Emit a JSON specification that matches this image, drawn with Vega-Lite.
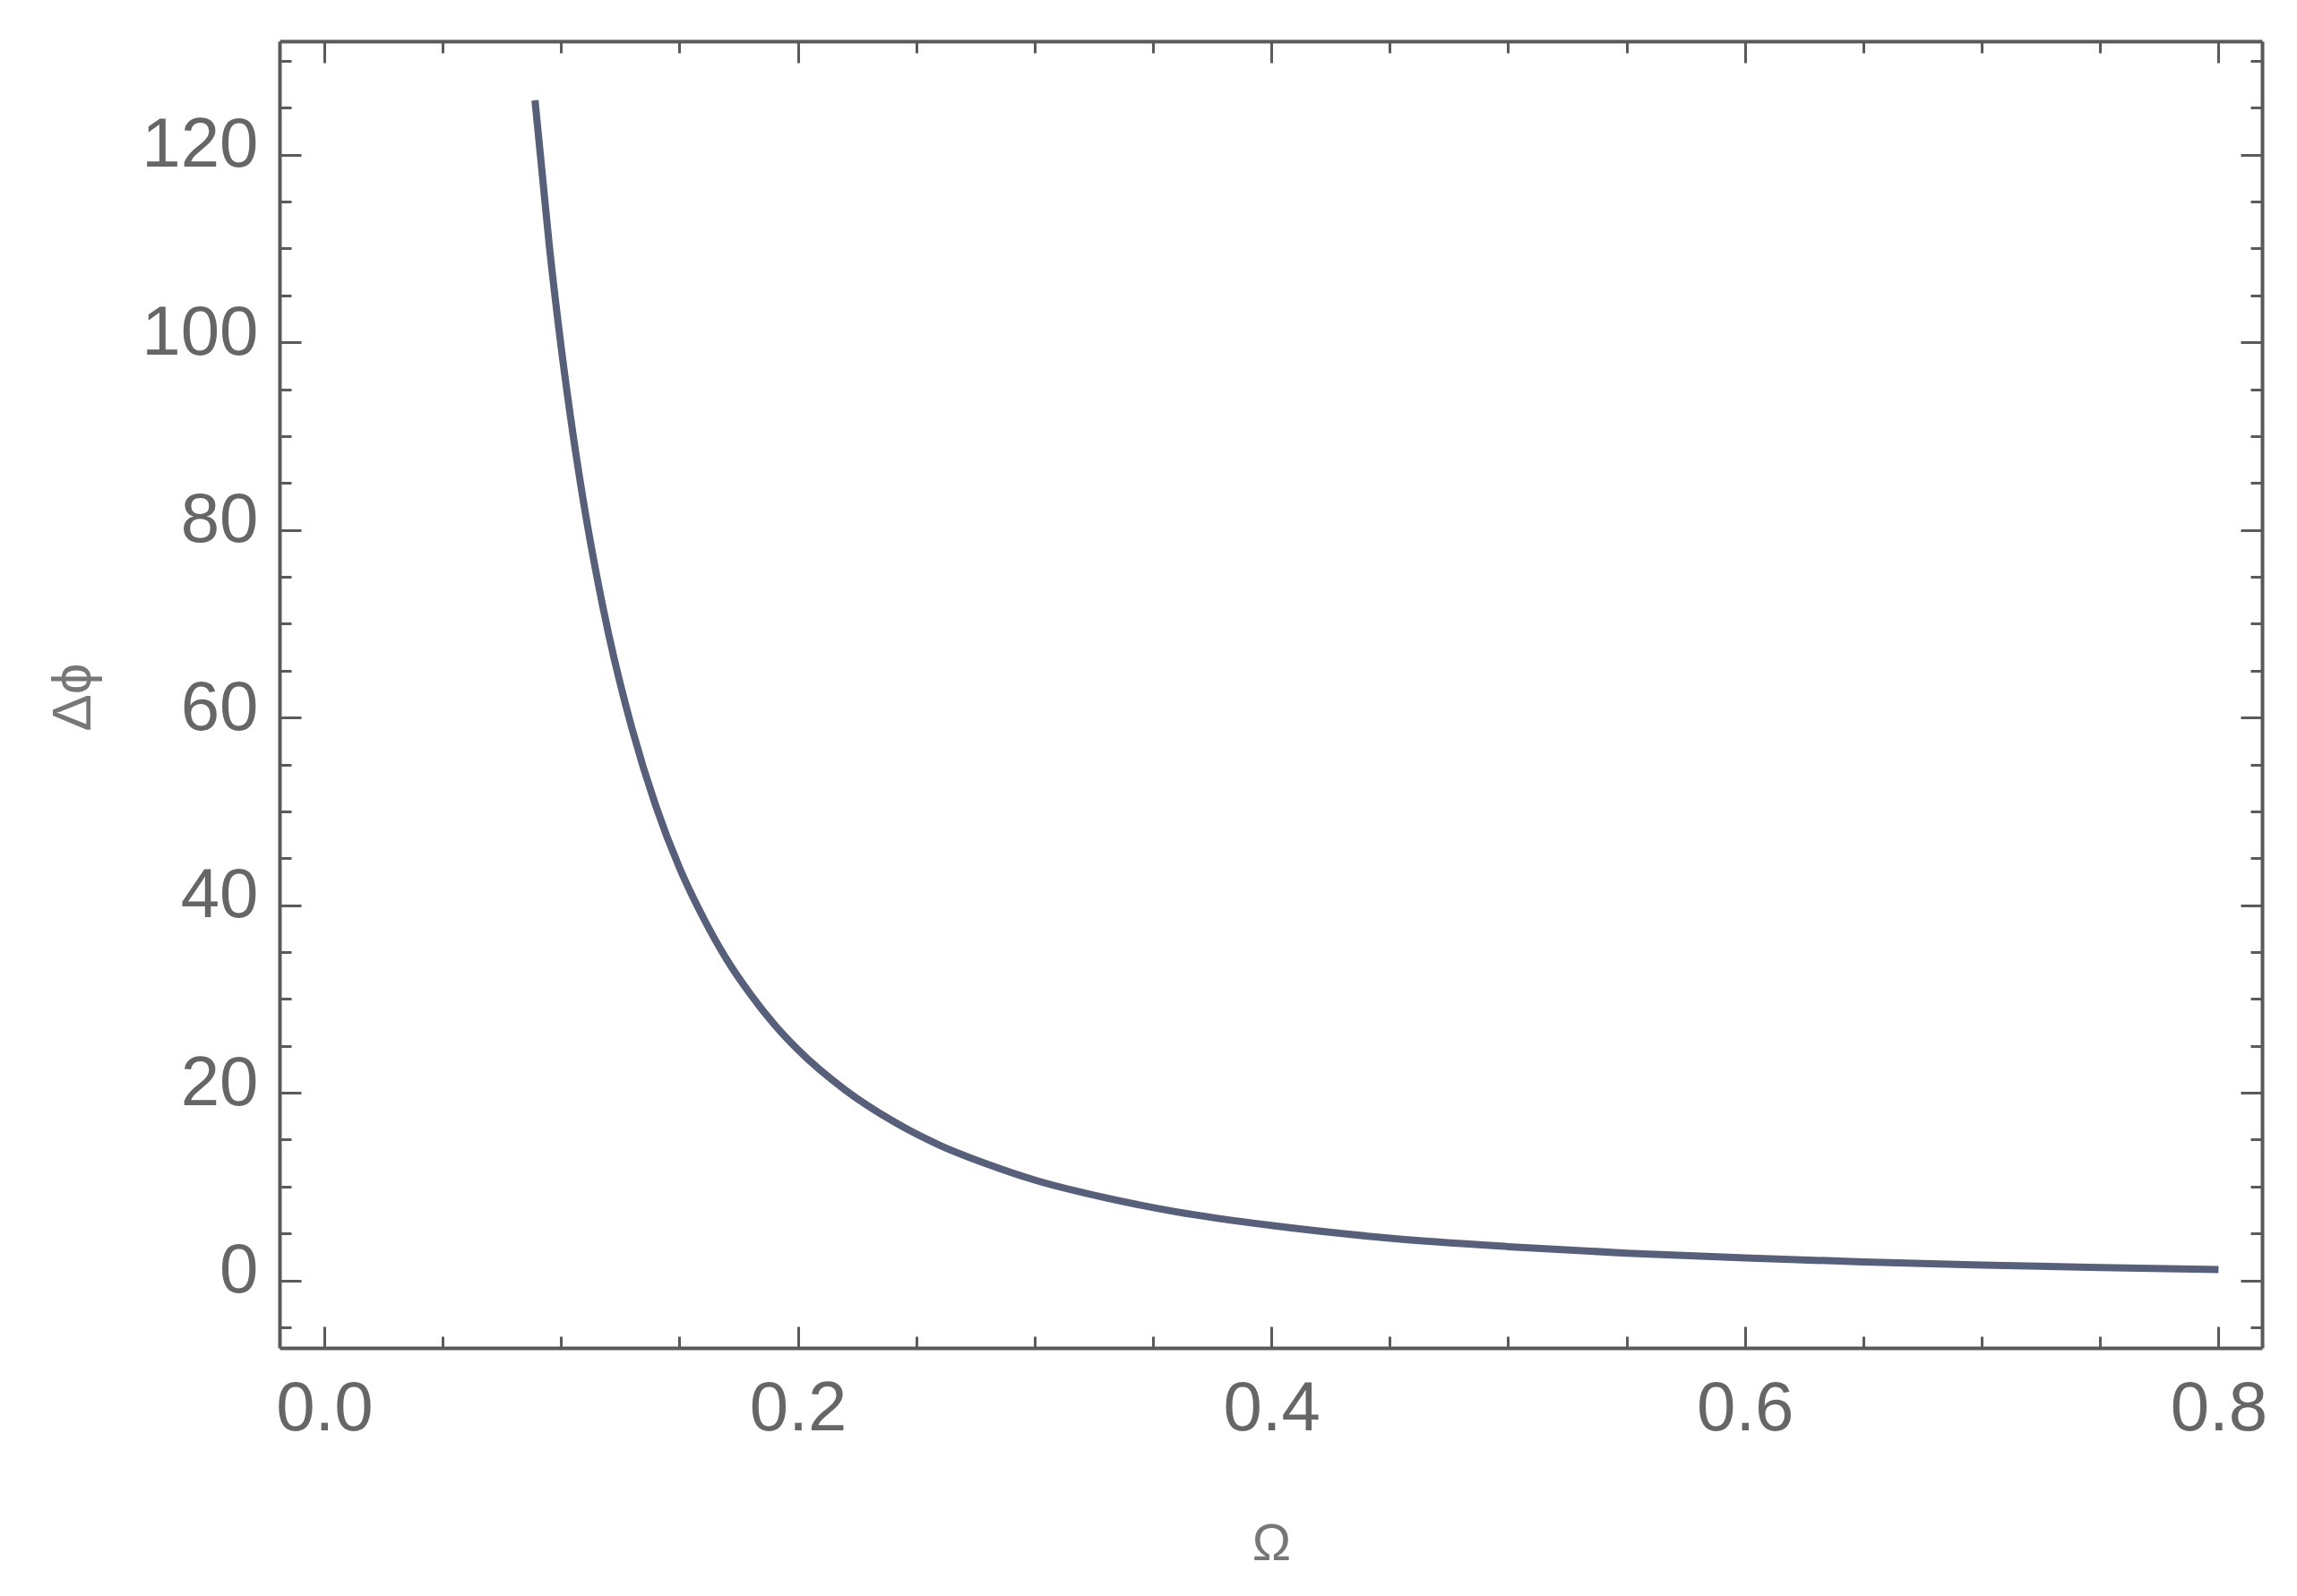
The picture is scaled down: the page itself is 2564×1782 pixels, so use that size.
{
  "$schema": "https://vega.github.io/schema/vega-lite/v6.json",
  "autosize": {"type": "none"},
  "padding": {"left": 312, "top": 46, "right": 39, "bottom": 277},
  "width": 2213,
  "height": 1459,
  "background": "white",
  "config": {
    "view": {"stroke": null},
    "axis": {
      "grid": false,
      "domainColor": "#5a5a5a",
      "domainWidth": 4,
      "tickColor": "#5a5a5a",
      "tickWidth": 3,
      "labelFont": "Liberation Sans",
      "labelColor": "#666666",
      "labelFontSize": 78,
      "titleFont": "Liberation Sans",
      "titleColor": "#777777",
      "titleFontWeight": "normal"
    }
  },
  "data": {
    "values": [
      {"omega": 0.089, "dphi": 125.8},
      {"omega": 0.095, "dphi": 110.4},
      {"omega": 0.10, "dphi": 99.6},
      {"omega": 0.105, "dphi": 90.3},
      {"omega": 0.11, "dphi": 82.2},
      {"omega": 0.115, "dphi": 75.2},
      {"omega": 0.12, "dphi": 69.0},
      {"omega": 0.13, "dphi": 58.8},
      {"omega": 0.14, "dphi": 50.6},
      {"omega": 0.15, "dphi": 44.0},
      {"omega": 0.16, "dphi": 38.7},
      {"omega": 0.17, "dphi": 34.2},
      {"omega": 0.18, "dphi": 30.5},
      {"omega": 0.19, "dphi": 27.3},
      {"omega": 0.20, "dphi": 24.6},
      {"omega": 0.22, "dphi": 20.3},
      {"omega": 0.24, "dphi": 17.0},
      {"omega": 0.26, "dphi": 14.4},
      {"omega": 0.28, "dphi": 12.4},
      {"omega": 0.30, "dphi": 10.7},
      {"omega": 0.33, "dphi": 8.8},
      {"omega": 0.36, "dphi": 7.3},
      {"omega": 0.40, "dphi": 5.85},
      {"omega": 0.45, "dphi": 4.5},
      {"omega": 0.50, "dphi": 3.6},
      {"omega": 0.55, "dphi": 2.9},
      {"omega": 0.60, "dphi": 2.4},
      {"omega": 0.65, "dphi": 1.97},
      {"omega": 0.70, "dphi": 1.64},
      {"omega": 0.75, "dphi": 1.38},
      {"omega": 0.80, "dphi": 1.16}
    ]
  },
  "layer": [
    {
      "mark": {"type": "line", "stroke": "#56607a", "strokeWidth": 8, "interpolate": "monotone"},
      "encoding": {
        "x": {
          "field": "omega", "type": "quantitative",
          "scale": {"domain": [-0.0189, 0.8184], "nice": false, "zero": false},
          "axis": {
            "orient": "bottom",
            "values": [0, 0.2, 0.4, 0.6, 0.8],
            "format": ".1f",
            "tickSize": -24,
            "labelPadding": 53,
            "title": "Ω",
            "titleFontSize": 58,
            "titleBaseline": "alphabetic",
            "titleX": 1107,
            "titleY": 236
          }
        },
        "y": {
          "field": "dphi", "type": "quantitative",
          "scale": {"domain": [-7.2, 132.1], "nice": false, "zero": false},
          "axis": {
            "orient": "left",
            "values": [0, 20, 40, 60, 80, 100, 120],
            "tickSize": -24,
            "labelPadding": 48,
            "labelOffset": -10,
            "title": "Δϕ",
            "titleFontSize": 62,
            "titleAngle": -90,
            "titleBaseline": "alphabetic",
            "titleX": -212,
            "titleY": 732
          }
        }
      }
    },
    {
      "mark": {"type": "line", "opacity": 0},
      "encoding": {
        "x": {
          "field": "omega", "type": "quantitative",
          "axis": {
            "orient": "bottom",
            "values": [0.05, 0.1, 0.15, 0.25, 0.3, 0.35, 0.45, 0.5, 0.55, 0.65, 0.7, 0.75],
            "labels": false, "domain": false, "tickSize": -13, "title": null
          }
        },
        "y": {
          "field": "dphi", "type": "quantitative",
          "axis": {
            "orient": "left",
            "values": [-5, 5, 10, 15, 25, 30, 35, 45, 50, 55, 65, 70, 75, 85, 90, 95, 105, 110, 115, 125, 130],
            "labels": false, "domain": false, "tickSize": -13, "title": null
          }
        }
      }
    },
    {
      "mark": {"type": "line", "opacity": 0},
      "encoding": {
        "x": {
          "field": "omega", "type": "quantitative",
          "axis": {
            "orient": "top",
            "values": [0, 0.2, 0.4, 0.6, 0.8],
            "labels": false, "tickSize": -24, "title": null
          }
        },
        "y": {
          "field": "dphi", "type": "quantitative",
          "axis": {
            "orient": "right",
            "values": [0, 20, 40, 60, 80, 100, 120],
            "labels": false, "tickSize": -24, "title": null
          }
        }
      }
    },
    {
      "mark": {"type": "line", "opacity": 0},
      "encoding": {
        "x": {
          "field": "omega", "type": "quantitative",
          "axis": {
            "orient": "top",
            "values": [0.05, 0.1, 0.15, 0.25, 0.3, 0.35, 0.45, 0.5, 0.55, 0.65, 0.7, 0.75],
            "labels": false, "domain": false, "tickSize": -13, "title": null
          }
        },
        "y": {
          "field": "dphi", "type": "quantitative",
          "axis": {
            "orient": "right",
            "values": [-5, 5, 10, 15, 25, 30, 35, 45, 50, 55, 65, 70, 75, 85, 90, 95, 105, 110, 115, 125, 130],
            "labels": false, "domain": false, "tickSize": -13, "title": null
          }
        }
      }
    }
  ],
  "resolve": {"axis": {"x": "independent", "y": "independent"}}
}
